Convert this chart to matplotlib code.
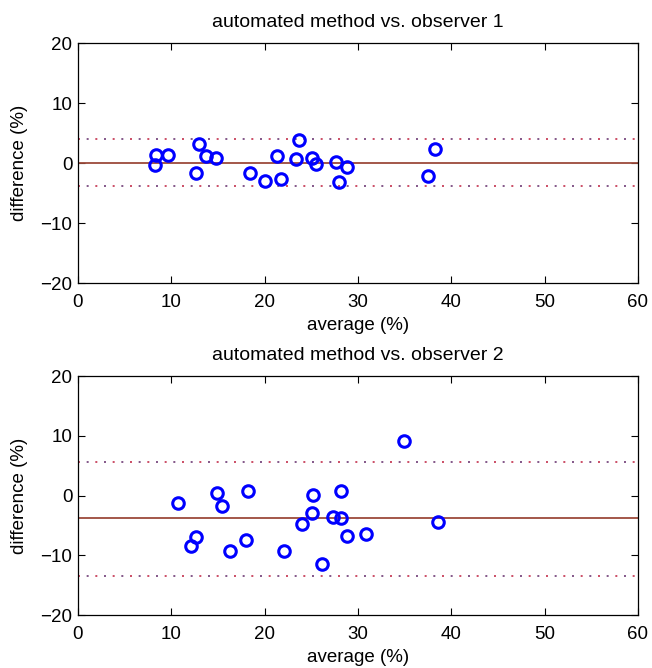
import matplotlib
matplotlib.use("Agg")
import matplotlib.pyplot as plt

plt.rcParams['font.family'] = ['Liberation Sans', 'DejaVu Sans']

# --- data -------------------------------------------------------------
titles = ["automated method vs. observer 1", "automated method vs. observer 2"]
xlabel = "average (%)"
ylabel = "difference (%)"

avg1 = [8.2, 8.4, 9.6, 13.0, 12.6, 13.7, 14.8, 18.4, 20.0, 21.3, 21.7,
        23.4, 23.7, 25.1, 25.5, 27.6, 28.0, 28.8, 37.5, 38.3]
diff1 = [-0.3, 1.3, 1.3, 3.1, -1.7, 1.2, 0.8, -1.7, -3.0, 1.1, -2.7,
         0.7, 3.9, 0.8, -0.1, 0.2, -3.2, -0.6, -2.2, 2.3]
stats1 = {"mean": 0.0, "upper": 4.0, "lower": -3.9}

avg2 = [10.7, 12.1, 12.6, 14.9, 15.4, 16.3, 18.0, 18.2, 22.1, 24.0, 25.1,
        25.2, 26.1, 27.3, 28.2, 28.2, 28.8, 30.9, 34.9, 38.6]
diff2 = [-1.3, -8.4, -7.0, 0.4, -1.8, -9.3, -7.4, 0.7, -9.3, -4.8, -2.9,
         0.1, -11.5, -3.6, -3.8, 0.7, -6.8, -6.4, 9.1, -4.4]
stats2 = {"mean": -3.7, "upper": 5.6, "lower": -13.4}

xticks = [0, 10, 20, 30, 40, 50, 60]
yticks = [-20, -10, 0, 10, 20]

# --- figure -----------------------------------------------------------
fig = plt.figure(figsize=(6.52, 6.68), dpi=100)
ax1 = fig.add_axes([0.1196, 0.5763, 0.8589, 0.3593])
ax2 = fig.add_axes([0.1196, 0.0793, 0.8589, 0.3578])

for ax, title, xs, ys, st in [(ax1, titles[0], avg1, diff1, stats1),
                              (ax2, titles[1], avg2, diff2, stats2)]:
    ax.set_xlim(0, 60)
    ax.set_ylim(-20, 20)
    ax.axhline(st["mean"], color="#9c4a3a", lw=1.3, zorder=2)
    for key in ("upper", "lower"):
        ax.axhline(st[key], color="#c8405a", lw=1.3, linestyle=(0, (1.1, 8.5)), zorder=2)
        ax.axhline(st[key], color="#7a4a80", lw=1.3, linestyle=(4.8, (1.1, 8.5)), zorder=2)
    ax.plot(xs, ys, linestyle="none", marker="o", markersize=8.3,
            markerfacecolor="none", markeredgecolor="#0000ff",
            markeredgewidth=2.2, zorder=3)
    ax.set_xticks(xticks)
    ax.set_yticks(yticks)
    ax.tick_params(direction="in", length=5, width=0.8, top=True, right=True,
                   labelsize=13.5)
    ax.tick_params(axis="x", pad=8)
    ax.tick_params(axis="y", pad=4)
    ax.set_title(title, fontsize=14, pad=11.5)
    ax.set_xlabel(xlabel, fontsize=13.5, labelpad=4.5)
    ax.set_ylabel(ylabel, fontsize=13.5, labelpad=9)
    for s in ax.spines.values():
        s.set_linewidth(0.9)

fig.savefig("out.png", dpi=100)
